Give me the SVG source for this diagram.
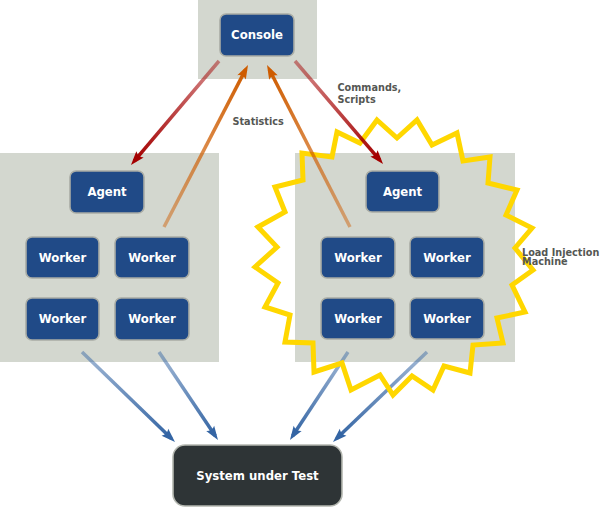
<svg xmlns="http://www.w3.org/2000/svg" width="600" height="507" viewBox="0 0 600 507">
<style>
.bg{fill:#d3d7cf}
.node rect{fill:#204a87;stroke:#a9aca5;stroke-width:1.6}
.node text{fill:#ffffff;font-family:"DejaVu Sans",sans-serif;font-weight:bold;font-size:11.7px;text-anchor:middle}
.sut rect{fill:#2e3436;stroke:#b4b7b0;stroke-width:1.6}
.lbl{fill:#555753;font-family:"DejaVu Sans",sans-serif;font-weight:bold;font-size:9.7px}
.conn line{stroke-width:3.5;fill:none}
.star{fill:none;stroke:#ffd700;stroke-width:5;stroke-linejoin:miter}
</style>
<defs>
<marker id="mRed" markerUnits="userSpaceOnUse" markerWidth="20" markerHeight="20" refX="9" refY="0" viewBox="-2 -10 20 20" orient="auto" overflow="visible"><path d="M14,0 L0,-4.8 Q3.5,0 0,4.8 Z" fill="#a40000"/></marker>
<marker id="mOrange" markerUnits="userSpaceOnUse" markerWidth="20" markerHeight="20" refX="9" refY="0" viewBox="-2 -10 20 20" orient="auto" overflow="visible"><path d="M14,0 L0,-4.8 Q3.5,0 0,4.8 Z" fill="#ce5c00"/></marker>
<marker id="mBlue" markerUnits="userSpaceOnUse" markerWidth="20" markerHeight="20" refX="9" refY="0" viewBox="-2 -10 20 20" orient="auto" overflow="visible"><path d="M14,0 L0,-4.8 Q3.5,0 0,4.8 Z" fill="#3465a4"/></marker>
<linearGradient id="gR1" gradientUnits="userSpaceOnUse" x1="219" y1="61" x2="134" y2="161"><stop offset="0" stop-color="#a40000" stop-opacity="0.45"/><stop offset="1" stop-color="#a40000"/></linearGradient>
<linearGradient id="gR2" gradientUnits="userSpaceOnUse" x1="295" y1="61" x2="380" y2="160"><stop offset="0" stop-color="#a40000" stop-opacity="0.45"/><stop offset="1" stop-color="#a40000"/></linearGradient>
<linearGradient id="gO1" gradientUnits="userSpaceOnUse" x1="164" y1="227" x2="246" y2="69"><stop offset="0" stop-color="#ce5c00" stop-opacity="0.45"/><stop offset="1" stop-color="#ce5c00"/></linearGradient>
<linearGradient id="gO2" gradientUnits="userSpaceOnUse" x1="350" y1="227" x2="269" y2="69"><stop offset="0" stop-color="#ce5c00" stop-opacity="0.45"/><stop offset="1" stop-color="#ce5c00"/></linearGradient>
<linearGradient id="gB1" gradientUnits="userSpaceOnUse" x1="82" y1="352" x2="171" y2="438"><stop offset="0" stop-color="#3465a4" stop-opacity="0.45"/><stop offset="1" stop-color="#3465a4"/></linearGradient>
<linearGradient id="gB2" gradientUnits="userSpaceOnUse" x1="159" y1="352" x2="215" y2="436"><stop offset="0" stop-color="#3465a4" stop-opacity="0.45"/><stop offset="1" stop-color="#3465a4"/></linearGradient>
<linearGradient id="gB3" gradientUnits="userSpaceOnUse" x1="348" y1="352" x2="293" y2="436"><stop offset="0" stop-color="#3465a4" stop-opacity="0.45"/><stop offset="1" stop-color="#3465a4"/></linearGradient>
<linearGradient id="gB4" gradientUnits="userSpaceOnUse" x1="427" y1="352" x2="337" y2="438"><stop offset="0" stop-color="#3465a4" stop-opacity="0.45"/><stop offset="1" stop-color="#3465a4"/></linearGradient>
</defs>
<rect width="600" height="507" fill="#ffffff"/>
<g id="console-machine"><rect class="bg" x="198" y="0" width="119" height="79"/></g>
<g id="machine-left"><rect class="bg" x="0" y="153" width="219" height="209"/></g>
<g id="machine-right"><rect class="bg" x="295" y="153" width="220" height="209"/></g>
<g id="connectors-load" class="conn">
<line x1="82" y1="352" x2="171.4" y2="438.5" stroke="url(#gB1)" marker-end="url(#mBlue)"/>
<line x1="159" y1="352" x2="215.2" y2="435.8" stroke="url(#gB2)" marker-end="url(#mBlue)"/>
<line x1="348" y1="352" x2="292.7" y2="435.8" stroke="url(#gB3)" marker-end="url(#mBlue)"/>
<line x1="427" y1="352" x2="336.6" y2="438.5" stroke="url(#gB4)" marker-end="url(#mBlue)"/>
</g>
<polygon id="load-star" class="star" points="377,120 397,138 417,120 432,145 457,133 463,161 490,157 488,183 517,190 506,215 532,228 515,248 533,270 512,285 525,312 497,318 503,343 473,345 470,373 444,366 433,390 412,376 393,395 380,375 351,390 342,363 314,372 313,343 285,342 290,315 265,307 278,283 255,267 277,247 258,227 285,212 275,187 303,180 302,153 332,157 337,132 360,143"/>
<g id="connectors-control" class="conn">
<line x1="219" y1="61" x2="134.2" y2="161.2" stroke="url(#gR1)" marker-end="url(#mRed)"/>
<line x1="295" y1="61" x2="379.8" y2="160.2" stroke="url(#gR2)" marker-end="url(#mRed)"/>
<line x1="164" y1="227" x2="245.7" y2="69.4" stroke="url(#gO1)" marker-end="url(#mOrange)"/>
<line x1="350" y1="227" x2="269.3" y2="69.5" stroke="url(#gO2)" marker-end="url(#mOrange)"/>
</g>
<g id="console" class="node"><rect x="220" y="14" width="74" height="42" rx="6"/><text x="257" y="39.3">Console</text></g>
<g id="agent-left" class="node"><rect x="70" y="171" width="74" height="42" rx="6"/><text x="107" y="196.2">Agent</text></g>
<g id="worker-l1" class="node"><rect x="26" y="237" width="73" height="41" rx="6"/><text x="62.5" y="261.7">Worker</text></g>
<g id="worker-l2" class="node"><rect x="115" y="237" width="74" height="41" rx="6"/><text x="152" y="261.7">Worker</text></g>
<g id="worker-l3" class="node"><rect x="26" y="298" width="73" height="42" rx="6"/><text x="62.5" y="323.2">Worker</text></g>
<g id="worker-l4" class="node"><rect x="115" y="298" width="74" height="42" rx="6"/><text x="152" y="323.2">Worker</text></g>
<g id="agent-right" class="node"><rect x="366" y="171" width="73" height="41" rx="6"/><text x="402.5" y="195.7">Agent</text></g>
<g id="worker-r1" class="node"><rect x="321" y="237" width="74" height="41" rx="6"/><text x="358" y="261.7">Worker</text></g>
<g id="worker-r2" class="node"><rect x="410" y="237" width="74" height="41" rx="6"/><text x="447" y="261.7">Worker</text></g>
<g id="worker-r3" class="node"><rect x="321" y="298" width="74" height="41" rx="6"/><text x="358" y="322.7">Worker</text></g>
<g id="worker-r4" class="node"><rect x="410" y="298" width="74" height="41" rx="6"/><text x="447" y="322.7">Worker</text></g>
<g id="sut" class="node sut"><rect x="173" y="445" width="169" height="61" rx="12"/><text x="257.5" y="479.8">System under Test</text></g>
<g id="labels">
<text class="lbl" x="337.5" y="91">Commands,</text>
<text class="lbl" x="337.5" y="102.5">Scripts</text>
<text class="lbl" x="232.5" y="124.5">Statistics</text>
<text class="lbl" x="522" y="255.7">Load Injection</text>
<text class="lbl" x="522" y="265.2">Machine</text>
</g>
</svg>
